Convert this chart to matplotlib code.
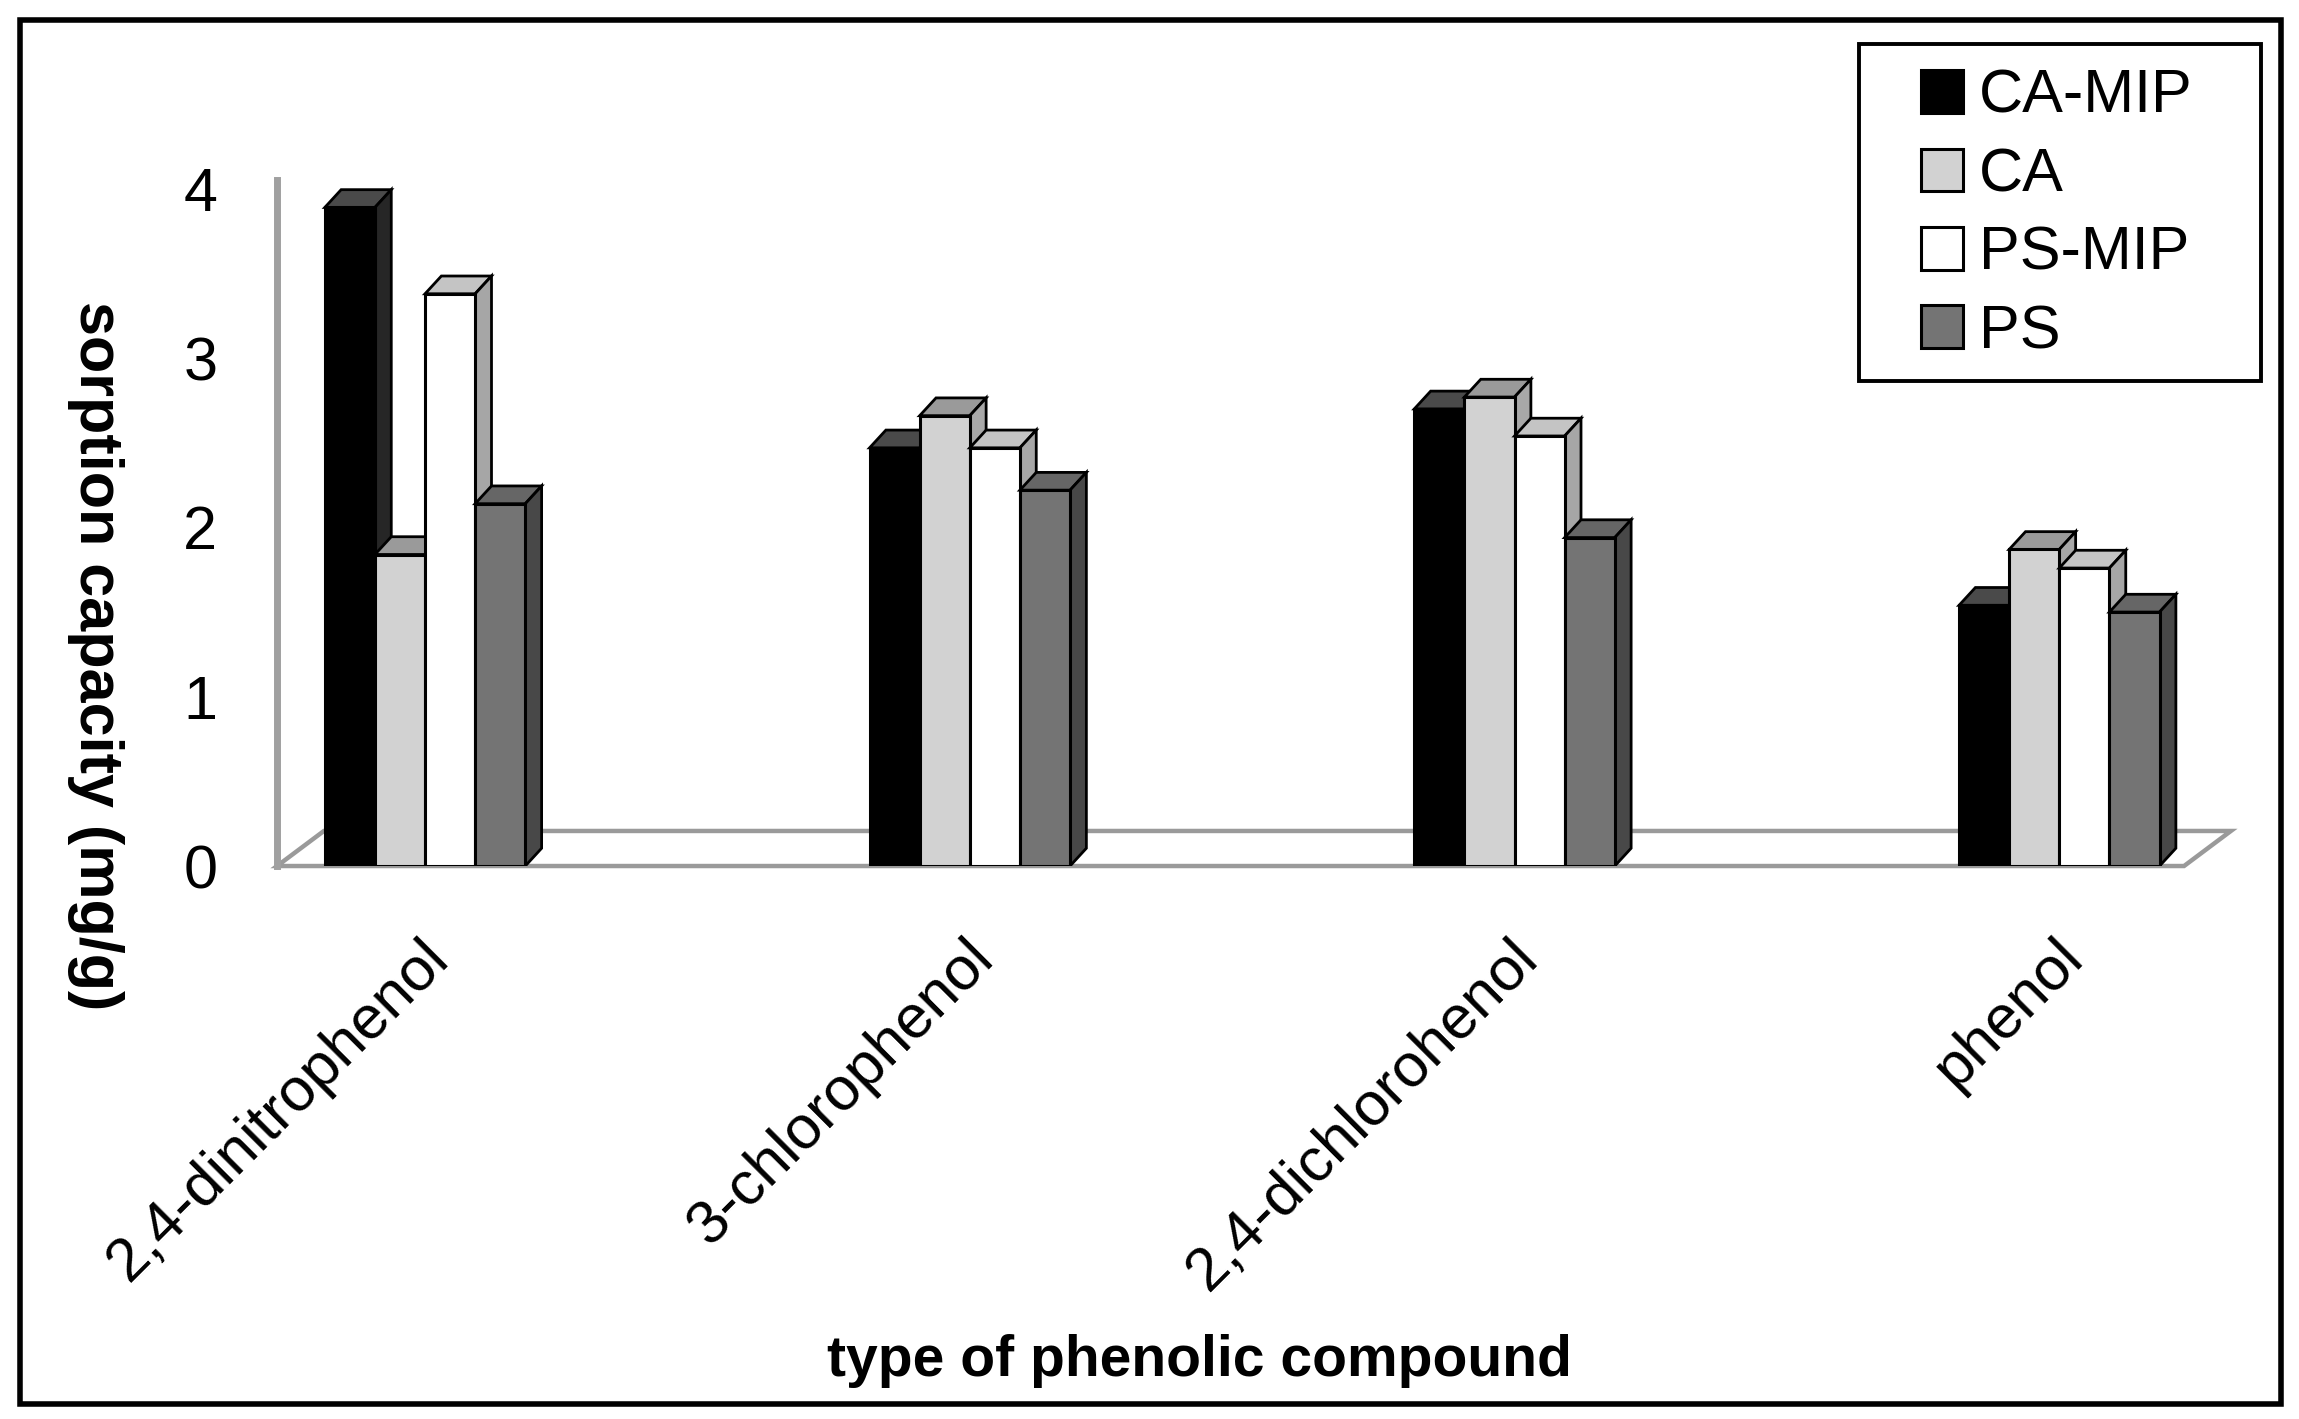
import numpy as np
import matplotlib
matplotlib.use('Agg')
import matplotlib.pyplot as plt
from matplotlib.patches import Polygon, Rectangle, Patch
import matplotlib.transforms as mtransforms

plt.rcParams['font.family'] = ['Liberation Sans Narrow', 'Liberation Sans', 'DejaVu Sans']

# data
compounds = ['2,4-dinitrophenol', '3-chlorophenol', '2,4-dichlorohenol', 'phenol']
series = ['CA-MIP', 'CA', 'PS-MIP', 'PS']
ca_mip = [3.89, 2.47, 2.70, 1.54]
ca = [1.84, 2.66, 2.77, 1.87]
ps_mip = [3.38, 2.47, 2.54, 1.76]
ps = [2.14, 2.22, 1.94, 1.50]
values = [ca_mip, ca, ps_mip, ps]

# front / top / side colours for each series
front = ['#000000', '#d2d2d2', '#ffffff', '#747474']
top = ['#4a4a4a', '#9a9a9a', '#c4c4c4', '#666666']
side = ['#262626', '#a8a8a8', '#a6a6a6', '#484848']

fig = plt.figure(figsize=(22.99, 14.19), dpi=100)
ax = fig.add_axes([0.1205, 0.3897, 0.8295, 0.4832])
ax.set_xlim(-0.2717, 3.229)
ax.set_ylim(0, 4.05)

x = np.arange(len(compounds))
w = 0.092
dx, dy = 0.03, 0.105          # bar depth
fdx, fdy = 0.086, 0.207       # floor depth

# floor
x0, x1 = ax.get_xlim()
floor = Polygon([(x0, 0), (x1, 0), (x1 + fdx, fdy), (x0 + fdx, fdy)], closed=True,
                facecolor='white', edgecolor='#9a9a9a', lw=3.2, zorder=1, clip_on=False)
ax.add_patch(floor)

for i, vals in enumerate(values):
    xs = x + (i - 1.5) * w
    ax.bar(xs, vals, width=w, color=front[i], edgecolor='black', lw=2.2, zorder=3 + 2 * i)
    for xc, h in zip(xs, vals):
        l, r = xc - w / 2, xc + w / 2
        ax.add_patch(Polygon([(l, h), (l + dx, h + dy), (r + dx, h + dy), (r, h)], closed=True,
                             facecolor=top[i], edgecolor='black', lw=2.0, zorder=2 + 2 * i))
        ax.add_patch(Polygon([(r, 0), (r + dx, dy), (r + dx, h + dy), (r, h)], closed=True,
                             facecolor=side[i], edgecolor='black', lw=2.0, zorder=2 + 2 * i))

for s in ['top', 'right', 'bottom']:
    ax.spines[s].set_visible(False)
ax.spines['left'].set_color('#a0a0a0')
ax.spines['left'].set_linewidth(5)
ax.set_yticks([0, 1, 2, 3, 4])
ax.tick_params(axis='y', length=0, pad=43, labelsize=44)
ax.set_xticks(x)
ax.set_xticklabels(compounds, rotation=45, ha='right', va='center', rotation_mode='anchor', fontsize=44)
ax.tick_params(axis='x', length=0, pad=60)
offset = mtransforms.ScaledTranslation(0.15, 0, fig.dpi_scale_trans)
for lab in ax.get_xticklabels():
    lab.set_transform(lab.get_transform() + offset)

fig.text(95 / 2299, 1 - 656 / 1419, 'sorption capacity (mg/g)', rotation=270,
         ha='center', va='center', fontsize=44, fontweight='bold')
fig.text(1199 / 2299, 1 - 1361 / 1419, 'type of phenolic compound',
         ha='center', va='center', fontsize=41, fontweight='bold')

# legend
handles = [Patch(facecolor=front[i], edgecolor='black', lw=2.2) for i in range(4)]
fig.legend(handles, series, loc='center', bbox_to_anchor=(0.8945, 0.8485), frameon=False,
           fontsize=44, handlelength=0.7, handleheight=0.7, handletextpad=0.25, labelspacing=0.35)
fig.add_artist(Rectangle((1859 / 2299, 1 - 381 / 1419), (2261 - 1859) / 2299, (381 - 44) / 1419,
                         transform=fig.transFigure, fill=False, edgecolor='black', lw=2.8))

# outer frame
fig.add_artist(Rectangle((19.5 / 2299, 1 - 1404 / 1419), (2281 - 19.5) / 2299, (1404 - 19.5) / 1419,
                         transform=fig.transFigure, fill=False, edgecolor='black', lw=4))

fig.savefig('out.png', dpi=100)
